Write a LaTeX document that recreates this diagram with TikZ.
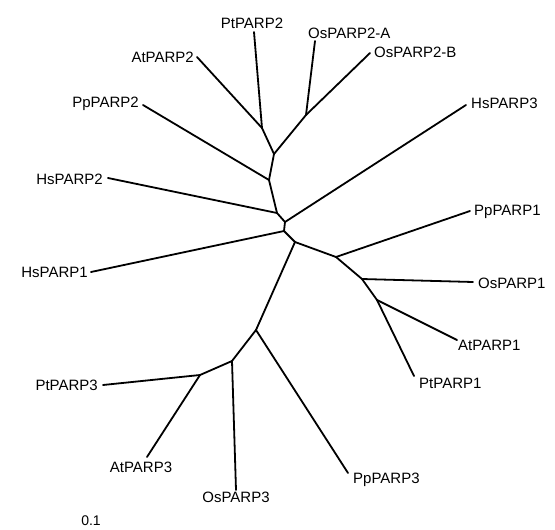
\documentclass[tikz,border=0pt]{standalone}
\usepackage{fontspec}
\setmainfont{Liberation Sans}
\begin{document}
\begin{tikzpicture}[x=1pt,y=-1pt,
  branch/.style={line width=1.8pt,line cap=round,line join=round},
  taxon/.style={inner sep=1pt,font=\fontsize{15}{18}\selectfont}]
\useasboundingbox (0,0) rectangle (555,530);

% internal nodes of the tree
\coordinate (n1) at (262,128);
\coordinate (nOs) at (306,115);
\coordinate (n2) at (274,154);
\coordinate (n3) at (269,180);
\coordinate (n4) at (277,213);
\coordinate (n5) at (285,222);
\coordinate (n6) at (284,231);
\coordinate (n7) at (295,242);
\coordinate (n8) at (336,257);
\coordinate (n9) at (362,279);
\coordinate (n10) at (377,300);
\coordinate (n11) at (256,330);
\coordinate (n12) at (232,361);
\coordinate (n13) at (200,375);

% leaf tips
\coordinate (tPtPARP2) at (254,32);
\coordinate (tOsPARP2A) at (315,41);
\coordinate (tOsPARP2B) at (370,53);
\coordinate (tAtPARP2) at (197,57);
\coordinate (tPpPARP2) at (143,105);
\coordinate (tHsPARP2) at (108,178);
\coordinate (tHsPARP3) at (466,105);
\coordinate (tPpPARP1) at (470,211);
\coordinate (tOsPARP1) at (473,282);
\coordinate (tAtPARP1) at (457,340);
\coordinate (tPtPARP1) at (414,376);
\coordinate (tPpPARP3) at (348,473);
\coordinate (tOsPARP3) at (236,490);
\coordinate (tAtPARP3) at (147,457);
\coordinate (tPtPARP3) at (103,385);
\coordinate (tHsPARP1) at (91,272);

% leaf labels
\node[taxon,anchor=south] (lPtPARP2) at (252,30) {PtPARP2};
\node[taxon,anchor=south west] (lOsPARP2A) at (307,40) {OsPARP2-A};
\node[taxon,anchor=west] (lOsPARP2B) at (373,52) {OsPARP2-B};
\node[taxon,anchor=east] (lAtPARP2) at (195,57) {AtPARP2};
\node[taxon,anchor=east] (lPpPARP2) at (140,104) {PpPARP2};
\node[taxon,anchor=east] (lHsPARP2) at (104,179) {HsPARP2};
\node[taxon,anchor=west] (lHsPARP3) at (470,103) {HsPARP3};
\node[taxon,anchor=west] (lPpPARP1) at (473,212) {PpPARP1};
\node[taxon,anchor=west] (lOsPARP1) at (477,283) {OsPARP1};
\node[taxon,anchor=west] (lAtPARP1) at (457,345) {AtPARP1};
\node[taxon,anchor=north west] (lPtPARP1) at (418,377) {PtPARP1};
\node[taxon,anchor=north west] (lPpPARP3) at (352,472) {PpPARP3};
\node[taxon,anchor=north] (lOsPARP3) at (236,491) {OsPARP3};
\node[taxon,anchor=north] (lAtPARP3) at (141,461) {AtPARP3};
\node[taxon,anchor=east] (lPtPARP3) at (99,385) {PtPARP3};
\node[taxon,anchor=east] (lHsPARP1) at (89,272) {HsPARP1};

% branches
\draw[branch] (tPtPARP2) -- (n1);
\draw[branch] (tAtPARP2) -- (n1);
\draw[branch] (tOsPARP2A) -- (nOs);
\draw[branch] (tOsPARP2B) -- (nOs);
\draw[branch] (n1) -- (n2);
\draw[branch] (nOs) -- (n2);
\draw[branch] (n2) -- (n3);
\draw[branch] (tPpPARP2) -- (n3);
\draw[branch] (n3) -- (n4);
\draw[branch] (tHsPARP2) -- (n4);
\draw[branch] (n4) -- (n5);
\draw[branch] (tHsPARP3) -- (n5);
\draw[branch] (n5) -- (n6);
\draw[branch] (tHsPARP1) -- (n6);
\draw[branch] (n6) -- (n7);
\draw[branch] (n7) -- (n8);
\draw[branch] (tPpPARP1) -- (n8);
\draw[branch] (n8) -- (n9);
\draw[branch] (tOsPARP1) -- (n9);
\draw[branch] (n9) -- (n10);
\draw[branch] (tAtPARP1) -- (n10);
\draw[branch] (tPtPARP1) -- (n10);
\draw[branch] (n7) -- (n11);
\draw[branch] (tPpPARP3) -- (n11);
\draw[branch] (n11) -- (n12);
\draw[branch] (tOsPARP3) -- (n12);
\draw[branch] (n12) -- (n13);
\draw[branch] (tPtPARP3) -- (n13);
\draw[branch] (tAtPARP3) -- (n13);

% scale bar (clipped at the lower edge)
\node[taxon,font=\fontsize{14}{16}\selectfont] (scalelabel) at (91,521) {0.1};
\coordinate (sbA) at (54,530);
\coordinate (sbB) at (61,530);
\draw[line width=1pt,black!25] (sbA) -- (sbB);
\end{tikzpicture}
\end{document}
